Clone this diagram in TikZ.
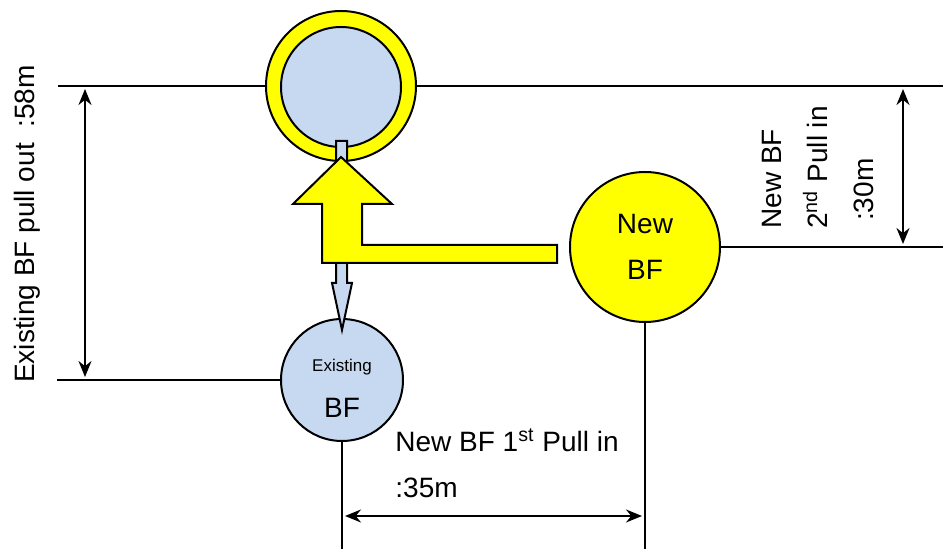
\documentclass[tikz,border=0pt]{standalone}
\usepackage{fontspec}
\setmainfont{Liberation Sans}
\usetikzlibrary{arrows.meta}
\definecolor{bfblue}{HTML}{C6D9F1}
\definecolor{bfyellow}{HTML}{FFFF00}

\begin{document}
\begin{tikzpicture}[x=0.5pt,y=-0.5pt,
    wire/.style={line width=1pt},
    dim/.style={line width=1pt,{Stealth[length=8pt,width=6.5pt]}-{Stealth[length=8pt,width=6.5pt]},shorten >=1.5pt,shorten <=1.5pt},
    lbl/.style={font=\fontsize{14}{23}\selectfont,inner sep=0pt},
    bf/.style={circle,draw,line width=1pt,inner sep=0pt}]
    \useasboundingbox (0,0) rectangle (943,549);
    % existing BF and new BF
    \node[bf,fill=bfblue,minimum size=61pt,
      label={[lbl,align=center,yshift=-4pt]center:{\fontsize{8.5}{10}\selectfont Existing}\\BF}] (exbf) at (342,380) {};
    \node[bf,fill=bfyellow,minimum size=75pt,lbl,align=center] (newbf) at (645,247) {New\\BF};
    % target position
    \node[bf,fill=bfyellow,minimum size=75pt] (ring) at (341,86) {};
    \node[bf,fill=bfblue,minimum size=60pt] (ringin) at (341,87) {};
    % pull out (blue) and pull in (yellow)
    \draw[wire,fill=bfblue] (336,141) -- (347,141) -- (347,283) -- (352,283) -- (342,330)
      -- (332,283) -- (336,283) -- cycle;
    \draw[wire,fill=bfyellow] (557,245) -- (362,245) -- (362,204) -- (392,204) -- (341,157)
      -- (293,204) -- (322,204) -- (322,263) -- (557,263) -- cycle;
    % reference lines
    \coordinate (lt) at (58,86);
    \coordinate (rt) at (943,86);
    \coordinate (lb) at (57,380);
    \coordinate (rb) at (943,247);
    \coordinate (bot) at (0,549);
    \draw[wire] (lt) -- (ring.west);
    \draw[wire] (ring.east) -- (rt);
    \draw[wire] (lb) -- (exbf.west);
    \draw[wire] (newbf.east) -- (rb);
    \draw[wire] (exbf.south) -- (exbf.south |- bot);
    \draw[wire] (newbf.south) -- (newbf.south |- bot);
    % dimensions
    \coordinate (d1) at (85,86);
    \coordinate (d2) at (85,380);
    \coordinate (d3) at (903,86);
    \coordinate (d4) at (903,247);
    \coordinate (d5) at (342,516);
    \coordinate (d6) at (645,516);
    \draw[dim] (d1) -- (d2);
    \draw[dim] (d3) -- (d4);
    \draw[dim] (d5) -- (d6);
    \node[lbl,rotate=90] (pullout) at (27,224) {Existing BF pull out\ \ :58m};
    \node[lbl,rotate=90,align=left,anchor=west] (pulltwo) at (818,229) {New BF\\2\textsuperscript{nd} Pull in\\\ :30m};
    \node[lbl,align=left,anchor=north west] (pullone) at (395,428) {New BF 1\textsuperscript{st} Pull in\\:35m};
\end{tikzpicture}
\end{document}
